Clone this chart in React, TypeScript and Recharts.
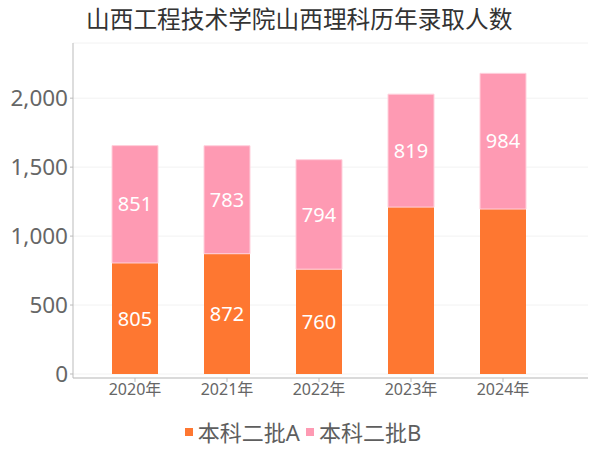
import React from 'react';
import { BarChart, Bar, XAxis, YAxis, CartesianGrid, Legend, LabelList } from 'recharts';

const years = ['2020年', '2021年', '2022年', '2023年', '2024年'];
const seriesA = [805, 872, 760, 1210, 1196];
const seriesB = [851, 783, 794, 819, 984];
const labelsA: (number | null)[] = [805, 872, 760, null, null];
const labelsB: (number | null)[] = [851, 783, 794, 819, 984];
const yTicks = [0, 500, 1000, 1500, 2000];

const data = years.map((y, i) => ({
  year: y,
  A: seriesA[i],
  B: seriesB[i],
  la: labelsA[i],
  lb: labelsB[i],
}));

const ORANGE = '#FE7731';
const PINK = '#FE9AB3';
const FONT = '"Noto Sans", "Noto Sans CJK SC", sans-serif';

const renderLegend = () => (
  <div style={{ display: 'flex', justifyContent: 'center', alignItems: 'center', gap: 6, fontFamily: FONT, fontSize: 22, color: '#5e5e5e', height: 30, lineHeight: '30px', paddingLeft: 6 }}>
    {[
      { name: '本科二批A', color: ORANGE },
      { name: '本科二批B', color: PINK },
    ].map((it) => (
      <div key={it.name} style={{ display: 'flex', alignItems: 'center' }}>
        <span style={{ display: 'inline-block', width: 8, height: 8, background: it.color, marginRight: 5 }} />
        <span>{it.name}</span>
      </div>
    ))}
  </div>
);

export default function App() {
  return (
    <div style={{ position: 'absolute', left: 0, top: 0, width: 600, height: 450, background: '#fff' }}>
      <div
        style={{
          position: 'absolute',
          left: 86,
          top: 2,
          fontFamily: '"Noto Sans CJK SC", sans-serif',
          fontSize: 23.7,
          color: '#333',
          whiteSpace: 'nowrap',
          lineHeight: '32px',
        }}
      >
        山西工程技术学院山西理科历年录取人数
      </div>
      <BarChart
        width={600}
        height={450}
        data={data}
        margin={{ top: 43, right: 12, left: 0, bottom: 10 }}
      >
        <CartesianGrid vertical={false} stroke="#f2f2f2" />
        <XAxis
          dataKey="year"
          axisLine={{ stroke: '#bbb' }}
          tickLine={{ stroke: '#bbb' }}
          tickSize={4}
          height={32}
          padding={{ left: 16, right: 39 }}
          tick={{ fill: '#666', fontSize: 16, fontFamily: FONT }}
        />
        <YAxis
          width={73}
          domain={[0, 2400]}
          ticks={yTicks}
          padding={{ bottom: 4 }}
          axisLine={{ stroke: '#bbb' }}
          tickLine={{ stroke: '#bbb' }}
          tickSize={3}
          tickFormatter={(v: number) => v.toLocaleString('en-US')}
          tick={{ fill: '#666', fontSize: 22.5, fontFamily: FONT }}
        />
        <Legend verticalAlign="bottom" height={30} content={renderLegend} wrapperStyle={{ bottom: 3, left: 0, width: 600 }} />
        <Bar dataKey="A" name="本科二批A" stackId="s" fill={ORANGE} barSize={46} isAnimationActive={false}>
          <LabelList dataKey="la" position="center" fill="#fff" fontSize={20} fontFamily={FONT} />
        </Bar>
        <Bar dataKey="B" name="本科二批B" stackId="s" fill={PINK} stroke="#ffd0dc" strokeWidth={1} barSize={46} isAnimationActive={false}>
          <LabelList dataKey="lb" position="center" fill="#fff" fontSize={20} fontFamily={FONT} />
        </Bar>
      </BarChart>
    </div>
  );
}
